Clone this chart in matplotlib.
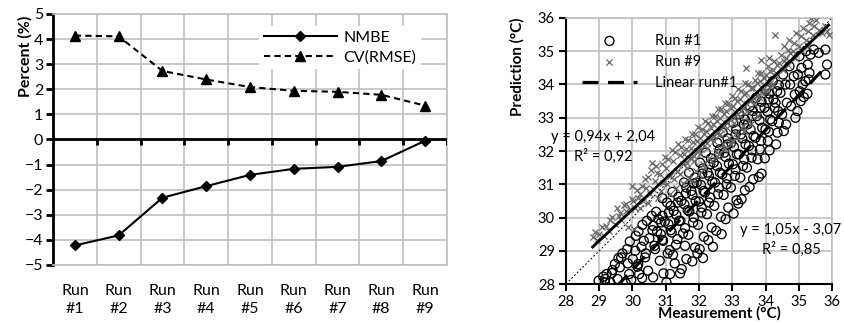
import numpy as np
import matplotlib
matplotlib.use("Agg")
import matplotlib.pyplot as plt

plt.rcParams['font.family'] = ['Lato', 'DejaVu Sans']

# left chart: error metrics per run
runs = ['Run\n#1', 'Run\n#2', 'Run\n#3', 'Run\n#4', 'Run\n#5',
        'Run\n#6', 'Run\n#7', 'Run\n#8', 'Run\n#9']
nmbe = [-4.22, -3.82, -2.32, -1.86, -1.41, -1.17, -1.09, -0.86, -0.05]
cv_rmse = [4.14, 4.11, 2.73, 2.39, 2.09, 1.94, 1.90, 1.78, 1.35]

run1_pts = [
    (28.98, 28.1), (29.17, 28.05), (29.12, 28.22),
    (29.33, 28.05), (29.22, 28.3), (29.4, 28.42), (29.18, 28.15),
    (29.47, 28.6), (29.38, 28.33), (29.62, 28.5), (29.58, 28.78), (29.55, 28.15),
    (29.7, 28.92), (29.86, 28.62), (29.66, 28.8), (29.9, 28.3), (29.8, 28.02), (29.84, 29.05),
    (29.92, 29.28), (30.08, 29.0), (30.01, 28.75), (30.15, 28.52), (29.96, 28.12), (30.1, 29.45), (30.2, 28.3),
    (30.18, 29.58), (30.34, 29.3), (30.27, 29.12), (30.38, 28.8), (30.17, 28.6), (30.3, 29.78), (30.29, 28.18),
    (30.43, 29.9), (30.6, 29.62), (30.51, 29.38), (30.66, 29.15), (30.4, 28.92), (30.58, 30.05), (30.47, 28.4), (30.62, 28.2),
    (30.71, 30.17), (30.86, 29.85), (30.74, 29.58), (30.9, 29.33), (30.68, 29.05), (30.82, 28.7), (30.78, 29.95), (30.93, 28.32),
    (31.04, 30.45), (31.09, 30.15), (30.97, 29.88), (31.15, 29.62), (30.92, 29.3), (31.06, 28.92), (31.02, 28.05), (31.13, 28.3), (30.9, 30.58),
    (31.2, 30.77), (31.36, 30.45), (31.24, 30.2), (31.4, 29.9), (31.18, 29.55), (31.31, 29.18), (31.27, 28.62), (31.43, 28.32), (31.22, 28.88),
    (31.55, 31.05), (31.6, 30.72), (31.47, 30.5), (31.66, 30.22), (31.44, 29.9), (31.52, 29.52), (31.58, 29.15), (31.62, 28.75), (31.48, 28.45),
    (31.7, 31.35), (31.84, 31.02), (31.77, 30.8), (31.9, 30.5), (31.71, 30.18), (31.82, 29.85), (31.68, 29.48), (31.88, 29.1), (31.8, 28.68), (31.95, 28.92),
    (32.03, 31.65), (32.1, 31.32), (31.93, 31.05), (32.14, 30.8), (32.0, 30.48), (32.07, 30.15), (31.97, 29.78), (32.15, 29.42), (32.02, 29.05), (32.12, 28.78),
    (32.2, 31.95), (32.33, 31.6), (32.26, 31.35), (32.4, 31.08), (32.18, 30.75), (32.3, 30.45), (32.24, 30.1), (32.38, 29.7), (32.28, 29.32), (32.42, 29.12),
    (32.55, 32.25), (32.6, 31.92), (32.44, 31.65), (32.63, 31.35), (32.48, 31.05), (32.57, 30.7), (32.46, 30.35), (32.66, 30.02), (32.52, 29.6), (32.68, 29.5),
    (32.71, 32.55), (32.86, 32.2), (32.76, 31.95), (32.9, 31.62), (32.7, 31.3), (32.83, 31.0), (32.74, 30.68), (32.88, 30.3), (32.8, 29.95),
    (33.03, 32.85), (33.1, 32.5), (32.97, 32.25), (33.14, 31.9), (33.02, 31.6), (33.08, 31.25), (32.96, 30.9), (33.13, 30.52), (33.04, 30.12), (33.18, 30.42),
    (33.22, 33.1), (33.35, 32.8), (33.26, 32.5), (33.4, 32.2), (33.2, 31.9), (33.32, 31.55), (33.24, 31.2), (33.38, 30.82), (33.28, 30.55),
    (33.53, 33.35), (33.6, 33.05), (33.46, 32.8), (33.64, 32.45), (33.5, 32.15), (33.58, 31.8), (33.44, 31.5), (33.63, 31.15), (33.52, 30.92),
    (33.72, 33.6), (33.85, 33.3), (33.74, 33.05), (33.9, 32.7), (33.7, 32.4), (33.83, 32.05), (33.76, 31.75), (33.88, 31.32), (33.8, 31.22),
    (34.02, 33.85), (34.1, 33.55), (33.97, 33.3), (34.14, 32.95), (34.0, 32.65), (34.07, 32.3), (33.98, 31.78), (34.12, 32.02),
    (34.22, 34.1), (34.35, 33.8), (34.24, 33.55), (34.38, 33.2), (34.2, 32.9), (34.32, 32.2), (34.36, 32.55), (34.27, 33.3),
    (34.53, 34.3), (34.6, 34.0), (34.45, 33.75), (34.64, 33.45), (34.5, 33.1), (34.55, 32.6), (34.62, 32.8),
    (34.72, 34.55), (34.85, 34.25), (34.74, 34.0), (34.88, 33.7), (34.77, 33.35), (34.9, 33.0), (34.96, 33.2),
    (35.02, 34.85), (35.08, 34.5), (34.97, 34.3), (35.12, 34.0), (35.03, 33.8), (35.06, 33.5), (35.15, 33.62),
    (35.22, 35.0), (35.27, 34.6), (35.32, 34.35), (35.2, 34.1), (35.3, 34.15), (35.26, 33.72),
    (35.45, 35.05), (35.6, 34.95), (35.35, 34.9), (35.8, 35.05), (35.85, 34.6), (35.8, 34.3),
    (30.62, 29.75), (30.9, 30.05), (31.15, 30.35), (31.38, 30.62), (31.62, 30.9), (31.88, 31.2),
    (32.12, 31.48), (32.36, 31.78), (32.62, 32.05), (32.86, 32.38), (33.12, 32.65), (33.38, 32.95),
    (33.62, 33.2), (33.88, 33.48), (34.12, 33.72), (34.4, 33.98),
    (30.85, 29.5), (31.08, 29.8), (31.32, 30.08), (31.56, 30.4), (31.8, 30.68), (32.06, 30.98),
    (32.3, 31.25), (32.54, 31.55), (32.8, 31.82), (33.05, 32.12), (33.3, 32.38), (33.55, 32.65),
    (33.82, 32.92), (34.06, 33.18), (34.3, 33.45),
    (31.12, 29.02), (31.35, 29.35), (31.58, 29.68), (31.84, 30.0), (32.08, 30.3), (32.34, 30.6),
    (32.6, 30.9), (32.84, 31.18), (33.1, 31.45), (33.36, 31.75), (33.6, 32.02), (33.86, 32.3),
    (34.1, 32.58), (34.4, 32.85),
]
run9_pts = [
    (28.8, 29.4), (28.88, 29.55), (28.93, 29.33),
    (28.98, 29.5), (29.07, 29.72), (29.14, 29.45),
    (29.19, 29.75), (29.28, 29.6), (29.33, 29.92),
    (29.38, 30.02), (29.47, 29.8), (29.52, 30.3), (29.58, 30.05),
    (29.62, 30.15), (29.66, 29.93), (29.73, 30.37), (29.79, 30.2),
    (29.81, 30.42), (29.86, 29.72), (29.93, 30.25), (29.99, 30.57),
    (30.03, 30.5), (30.07, 30.3), (30.14, 30.82), (29.98, 30.95), (30.18, 30.6), (30.05, 29.65),
    (30.22, 30.72), (30.28, 30.95), (30.33, 30.5), (30.39, 31.17), (30.24, 30.3),
    (30.42, 30.9), (30.48, 31.22), (30.53, 30.7), (30.57, 31.42), (30.46, 30.45),
    (30.6, 31.65), (30.67, 31.1), (30.73, 31.35), (30.62, 30.85), (30.78, 30.6), (30.71, 31.55),
    (30.82, 31.3), (30.88, 31.62), (30.93, 31.05), (30.97, 31.82), (30.86, 30.8),
    (31.02, 31.5), (31.07, 31.77), (31.13, 31.25), (31.18, 32.02), (31.04, 31.0), (31.12, 30.7),
    (31.22, 31.7), (31.27, 31.97), (31.33, 31.4), (31.38, 32.22), (31.24, 31.15), (31.31, 30.9),
    (31.42, 31.87), (31.47, 32.12), (31.53, 31.6), (31.58, 32.37), (31.44, 31.3), (31.52, 31.05),
    (31.62, 32.07), (31.67, 32.32), (31.73, 31.8), (31.78, 32.52), (31.64, 31.5), (31.71, 31.2),
    (31.82, 32.27), (31.87, 32.52), (31.93, 32.0), (31.98, 32.72), (31.84, 31.7), (31.91, 31.4), (31.79, 31.1),
    (32.02, 32.4), (32.08, 32.65), (32.13, 32.2), (32.17, 32.9), (32.04, 31.9), (32.11, 31.6), (31.99, 31.3),
    (32.22, 32.6), (32.27, 32.85), (32.33, 32.35), (32.38, 33.05), (32.24, 32.1), (32.31, 31.8), (32.19, 31.5),
    (32.42, 32.8), (32.47, 33.05), (32.53, 32.55), (32.58, 33.25), (32.44, 32.3), (32.51, 32.0), (32.39, 31.7),
    (32.62, 33.0), (32.67, 33.25), (32.73, 32.75), (32.78, 33.45), (32.64, 32.5), (32.71, 32.2), (32.59, 31.9),
    (32.82, 33.2), (32.87, 33.45), (32.93, 32.95), (32.98, 33.65), (32.84, 32.7), (32.91, 32.4), (32.79, 32.1),
    (33.02, 33.35), (33.07, 33.6), (33.13, 33.1), (33.18, 33.85), (33.04, 32.85), (33.11, 32.55), (32.99, 32.3),
    (33.22, 33.55), (33.27, 33.8), (33.33, 33.3), (33.38, 34.05), (33.24, 33.05), (33.31, 32.75),
    (33.42, 33.75), (33.47, 34.0), (33.53, 33.5), (33.4, 34.5), (33.44, 33.2), (33.51, 32.9),
    (33.62, 33.9), (33.67, 34.15), (33.73, 33.65), (33.78, 34.35), (33.64, 33.4),
    (33.82, 34.1), (33.87, 34.35), (33.93, 33.85), (33.86, 34.75), (33.84, 33.6),
    (34.02, 34.3), (34.07, 34.55), (34.13, 34.05), (34.09, 34.8), (34.04, 33.8),
    (34.22, 34.45), (34.27, 34.7), (34.33, 34.25), (34.3, 35.5), (34.24, 34.0),
    (34.42, 34.65), (34.47, 34.9), (34.53, 34.45), (34.57, 35.15),
    (34.62, 34.8), (34.67, 35.05), (34.72, 35.35), (34.69, 34.6),
    (34.82, 35.0), (34.87, 35.25), (34.92, 35.55), (34.89, 34.8),
    (35.02, 35.15), (35.07, 35.45), (35.12, 35.7), (35.09, 35.0),
    (35.22, 35.35), (35.27, 35.6), (35.32, 35.85), (35.29, 35.15),
    (35.42, 35.5), (35.47, 35.75), (35.52, 35.95), (35.38, 36.0),
    (35.62, 35.65), (35.7, 35.55),
    (35.8, 35.75), (35.86, 35.6), (35.9, 35.5),
    (31.55, 31.9), (31.75, 32.1), (31.95, 32.3), (32.15, 32.5), (32.35, 32.7), (32.55, 32.9),
    (32.75, 33.1), (32.95, 33.3), (33.15, 33.5), (33.35, 33.7), (33.55, 33.9), (33.75, 34.05),
    (33.95, 34.2), (34.15, 34.4), (34.35, 34.6), (34.55, 34.7), (34.75, 34.95),
    (31.65, 31.65), (31.85, 31.85), (32.05, 32.05), (32.25, 32.25), (32.45, 32.45), (32.65, 32.65),
    (32.85, 32.85), (33.05, 33.0), (33.25, 33.2), (33.45, 33.4), (33.65, 33.6), (33.9, 33.75),
    (34.15, 33.95),
    (32.55, 31.85), (32.75, 32.05), (32.95, 32.2), (33.15, 32.4), (33.35, 32.6), (33.55, 32.8),
    (33.75, 33.05),
]
fit_run1 = (1.05, -3.07, 0.85)   # slope, intercept, R²
fit_run9 = (0.94, 2.04, 0.92)

grid_c = '#c0c0c0'

fig = plt.figure(figsize=(8.44, 3.23), dpi=100)

# ---------------- left chart ----------------
ax1 = fig.add_axes([0.0628, 0.1796, 0.4668, 0.7771])
xpos = np.arange(len(runs))
ax1.plot(xpos, nmbe, color='black', lw=1.5, marker='D', ms=5, label='NMBE', zorder=4)
ax1.plot(xpos, cv_rmse, color='black', lw=1.5, ls=(0, (3, 2)), marker='^', ms=7,
         label='CV(RMSE)', zorder=4)
ax1.set_xlim(-0.5, len(runs) - 0.5)
ax1.set_ylim(-5, 5)
ax1.set_yticks(range(-5, 6))
ax1.set_xticks(xpos)
ax1.set_xticklabels(runs, linespacing=1.35)
ax1.set_xticks(np.arange(-0.5, len(runs), 1), minor=True)
ax1.yaxis.grid(True, color=grid_c, lw=1.2)
ax1.xaxis.grid(True, which='minor', color=grid_c, lw=1.2)
ax1.set_axisbelow(True)
for s in ['top', 'right', 'bottom']:
    ax1.spines[s].set_color(grid_c)
    ax1.spines[s].set_linewidth(1.2)
ax1.spines['left'].set_linewidth(2)
ax1.tick_params(axis='y', direction='out', length=5, width=2, labelsize=11.5, pad=2)
ax1.tick_params(axis='x', which='both', length=0, labelsize=11.5, pad=14)
ax1.axhline(0, color='black', lw=2, zorder=3)
ax1.vlines(np.arange(0.5, len(runs), 1), -0.22, 0, color='black', lw=2, zorder=3)
ax1.legend(loc='upper right', bbox_to_anchor=(0.955, 0.985), fontsize=11.5,
           handlelength=4.6, frameon=True, facecolor='white', edgecolor='none',
           framealpha=1, borderpad=0.3, labelspacing=0.35, handletextpad=0.4)
fig.text(25 / 844, 1 - 56 / 323, 'Percent (%)', rotation=90, ha='center', va='center',
         fontsize=11.5, fontweight='bold')

# ---------------- right chart ----------------
ax2 = fig.add_axes([0.6706, 0.1207, 0.3152, 0.8236])
r1x = np.array([p[0] for p in run1_pts])
r1y = np.array([p[1] for p in run1_pts])
r9x = np.array([p[0] for p in run9_pts])
r9y = np.array([p[1] for p in run9_pts])

ax2.axline((28, 28), slope=1, color='black', lw=0.7, ls=(0, (2, 2)), zorder=2)
xs1 = np.array([r1x.min(), r1x.max()])
ax2.plot(xs1, fit_run1[0] * xs1 + fit_run1[1], color='black', lw=2.3,
         ls=(0, (5, 3)), zorder=3, label='Linear run#1')
ax2.scatter(r1x, r1y, marker='o', facecolors='none', edgecolors='black', s=42, lw=0.95,
            label='Run #1', zorder=4)
ax2.scatter(r9x, r9y, marker='x', color='#666666', s=20, lw=0.9, label='Run #9', zorder=5)
xs9 = np.array([r9x.min(), r9x.max()])
ax2.plot(xs9, fit_run9[0] * xs9 + fit_run9[1], color='black', lw=2, zorder=6,
         label='_nolegend_')
ax2.set_xlim(28, 36)
ax2.set_ylim(28, 36)
ax2.set_xticks(range(28, 37))
ax2.set_yticks(range(28, 37))
ax2.grid(True, color=grid_c, lw=1.2)
ax2.set_axisbelow(True)
for s in ['top', 'right']:
    ax2.spines[s].set_color(grid_c)
    ax2.spines[s].set_linewidth(1.2)
for s in ['left', 'bottom']:
    ax2.spines[s].set_linewidth(1.5)
ax2.tick_params(direction='out', length=5, width=1.5, labelsize=10.5, pad=3)

h, l = ax2.get_legend_handles_labels()
order = [l.index('Run #1'), l.index('Run #9'), l.index('Linear run#1')]
ax2.legend([h[i] for i in order], [l[i] for i in order], loc='upper left',
           bbox_to_anchor=(0.01, 0.99), frameon=False, fontsize=10.5,
           handlelength=3.8, handletextpad=1.2, labelspacing=0.5)


def eq_text(fit):
    a, b, r2 = fit
    sign = '+' if b >= 0 else '-'
    eq = f'y = {a:.2f}x {sign} {abs(b):.2f}'.replace('.', ',')
    r = f'R² = {r2:.2f}'.replace('.', ',')
    return eq, r


eq9, r9 = eq_text(fit_run9)
eq1, r1 = eq_text(fit_run1)
ax2.text(27.55, 32.42, eq9, ha='left', va='center', fontsize=10.5, clip_on=False, zorder=7)
ax2.text(28.24, 31.85, r9, ha='left', va='center', fontsize=10.5, zorder=7)
ax2.text(33.22, 29.62, eq1, ha='left', va='center', fontsize=10.5, clip_on=False, zorder=7)
ax2.text(33.9, 29.05, r1, ha='left', va='center', fontsize=10.5, zorder=7)

fig.text(719 / 844, 1 - 313 / 323, 'Measurement (°C)', ha='center', va='center',
         fontsize=11, fontweight='bold')
fig.text(517 / 844, 1 - 67 / 323, 'Prediction (°C)', rotation=90, ha='center',
         va='center', fontsize=11, fontweight='bold')

fig.savefig('out.png', dpi=100)
